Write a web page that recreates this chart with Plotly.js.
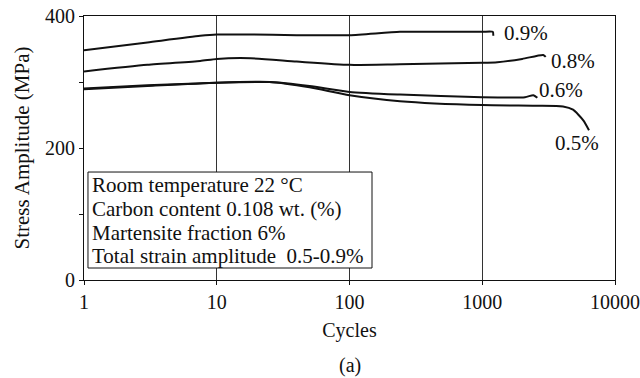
<!DOCTYPE html>
<html>
<head>
<meta charset="utf-8">
<script src="https://cdn.plot.ly/plotly-3.0.1.min.js"></script>
<style>html,body{margin:0;padding:0;background:#fff;}#chart{width:640px;height:378px;}</style>
</head>
<body>
<div id="chart"></div>
<script>
// Cycles (x) and stress amplitude in MPa (y)
const cycles09 = [1, 3, 7.5, 10, 17, 40, 100, 240, 500, 1000, 1200, 1211];
const stress09 = [348, 360, 370, 372, 372, 371, 371, 376, 376, 376, 376, 370];

const cycles08 = [1, 3, 7.5, 10, 18, 40, 100, 240, 1000, 1300, 2000, 2880, 3007];
const stress08 = [316, 326, 332, 335, 336, 331, 326, 327, 329, 330, 335, 341, 338];

const cycles06 = [1, 3, 10, 25, 50, 100, 240, 1000, 2100, 2427, 2600];
const stress06 = [290, 295, 299, 300, 294, 285, 281, 277, 277, 280, 276];

const cycles05 = [1, 3, 10, 25, 50, 100, 240, 1000, 2500, 4060, 4830, 5770, 6370];
const stress05 = [289, 294, 299, 300, 292, 280, 271, 265, 264, 263, 258, 242, 227];

const seriesNames = ['0.9%', '0.8%', '0.6%', '0.5%'];
const yTickVals = [0, 100, 200, 300, 400];
const yTickText = ['0', '', '200', '', '400'];
const xTickVals = [1, 10, 100, 1000, 10000];
const xTickText = ['1', '10', '100', '1000', '10000'];
const infoLines = ['Room temperature 22 °C', 'Carbon content 0.108 wt. (%)', 'Martensite fraction 6%', 'Total strain amplitude  0.5-0.9%'];

const FONT = 'Liberation Serif, Times New Roman, serif';
const lineStyle = {color: '#111', width: 2, shape: 'spline', smoothing: 0.6};

const traces = [
  {x: cycles09, y: stress09, name: seriesNames[0]},
  {x: cycles08, y: stress08, name: seriesNames[1]},
  {x: cycles06, y: stress06, name: seriesNames[2]},
  {x: cycles05, y: stress05, name: seriesNames[3]}
].map(t => Object.assign(t, {type: 'scatter', mode: 'lines', line: lineStyle, hoverinfo: 'skip'}));

// label positions (paper coords)
const labelPos = [[0.787, 0.9356], [0.876, 0.8307], [0.853, 0.7197], [0.883, 0.520]];
const infoY = [0.3598, 0.2678, 0.1792, 0.0909];

const annotations = seriesNames.map((n, i) => ({
  text: n, xref: 'paper', yref: 'paper', x: labelPos[i][0], y: labelPos[i][1],
  xanchor: 'left', yanchor: 'middle', showarrow: false,
  font: {family: FONT, size: 21, color: '#111'}
})).concat(infoLines.map((t, i) => ({
  text: t, xref: 'paper', yref: 'paper', x: 0.0115, y: infoY[i],
  xanchor: 'left', yanchor: 'middle', showarrow: false,
  font: {family: FONT, size: 21, color: '#111'}
}))).concat([{
  text: '(a)', xref: 'paper', yref: 'paper', x: 0.5, y: -0.322,
  xanchor: 'center', yanchor: 'middle', showarrow: false,
  font: {family: FONT, size: 20, color: '#111'}
}]);

const layout = {
  width: 640, height: 378,
  margin: {l: 84, r: 25, t: 16, b: 98},
  paper_bgcolor: '#fff', plot_bgcolor: '#fff',
  showlegend: false,
  font: {family: FONT, size: 20, color: '#111'},
  xaxis: {
    type: 'log', range: [0, 4],
    tickvals: xTickVals, ticktext: xTickText,
    ticks: 'outside', ticklen: 4, tickcolor: '#111',
    showline: true, linecolor: '#111', linewidth: 1, mirror: true,
    showgrid: true, gridcolor: '#333', gridwidth: 1,
    zeroline: false,
    tickfont: {family: FONT, size: 20, color: '#111'},
    title: {text: 'Cycles', font: {family: FONT, size: 20, color: '#111'}, standoff: 10}
  },
  yaxis: {
    range: [0, 400],
    tickvals: yTickVals, ticktext: yTickText,
    ticks: 'outside', ticklen: 4, tickcolor: '#111',
    showline: true, linecolor: '#111', linewidth: 1, mirror: true,
    showgrid: false, zeroline: false,
    tickfont: {family: FONT, size: 20, color: '#111'},
    title: {text: 'Stress Amplitude (MPa)', font: {family: FONT, size: 21, color: '#111'}, standoff: 9}
  },
  shapes: [{
    type: 'rect', xref: 'paper', yref: 'paper', layer: 'above',
    x0: 0.0075, x1: 0.5424, y0: 0.04545, y1: 0.409,
    line: {color: '#111', width: 1}, fillcolor: '#fff'
  }],
  annotations: annotations
};

Plotly.newPlot('chart', traces, layout, {staticPlot: true, displayModeBar: false});
</script>
</body>
</html>
